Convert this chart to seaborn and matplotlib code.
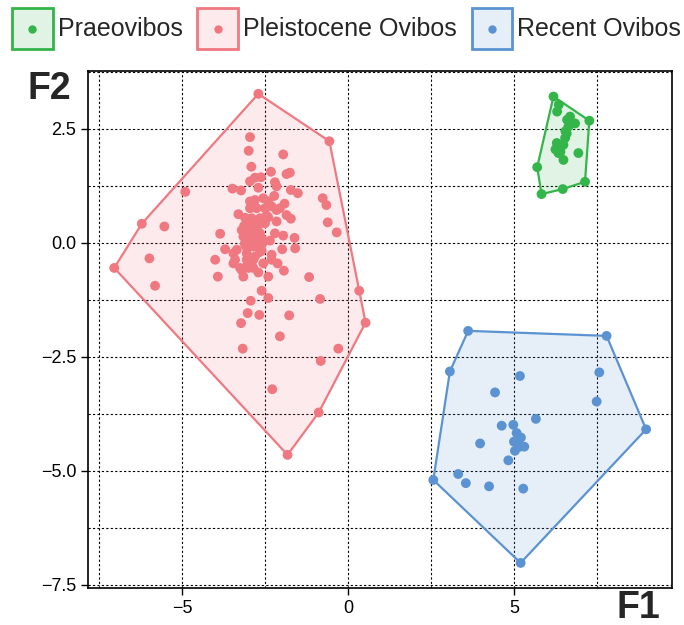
import numpy as np
import pandas as pd
import matplotlib
matplotlib.use("Agg")
import matplotlib.pyplot as plt
from matplotlib.patches import Patch, Rectangle
from matplotlib.lines import Line2D
from matplotlib.legend_handler import HandlerBase
from matplotlib.ticker import MultipleLocator
import seaborn as sns

sns.set_style("ticks")
plt.rcParams["font.family"] = ["Liberation Sans", "DejaVu Sans"]

groups = ["Praeovibos", "Pleistocene Ovibos", "Recent Ovibos"]
colors = ["#33b54a", "#f07880", "#5b93d2"]

praeo_x = [6.19, 6.35, 6.30, 7.27, 6.69, 6.84, 6.64, 6.59, 6.54, 6.29, 6.49, 6.34,
           6.49, 6.94, 5.70, 7.14, 6.47, 5.83, 6.25, 6.40, 6.60, 6.55]
praeo_y = [3.21, 3.03, 2.88, 2.68, 2.77, 2.62, 2.55, 2.40, 2.30, 2.19, 2.15, 1.97,
           1.82, 1.97, 1.66, 1.34, 1.18, 1.07, 2.05, 2.00, 2.70, 2.45]

recent_x = [3.62, 7.79, 3.07, 5.18, 7.57, 4.43, 7.49, 8.98, 5.66, 4.63, 4.98, 5.08,
            5.21, 5.00, 5.18, 5.31, 5.03, 3.98, 4.83, 2.57, 3.32, 3.55, 4.25, 5.28, 5.20]
recent_y = [-1.93, -2.04, -2.82, -2.92, -2.84, -3.28, -3.48, -4.09, -3.86, -4.01, -3.99, -4.17,
            -4.27, -4.36, -4.47, -4.47, -4.56, -4.40, -4.77, -5.20, -5.07, -5.27, -5.34, -5.39, -7.02]

pleist_x = [-2.70, -0.56, -6.21, -7.04, 0.34, 0.53, -0.88, -1.82,
            -2.95, -2.99, -1.95, -2.91, -2.32, -1.85, -1.75, -2.80, -2.62, -2.20, -2.15,
            -2.70, -3.48, -3.22, -4.90, -1.72, -1.51, -2.22, -0.76, -0.65,
            -2.95, -2.80, -2.55, -2.40, -2.30, -1.91, -2.95, -2.75, -2.50, -2.15, -2.05,
            -3.30, -1.85, -1.72, -2.90, -2.65, -2.40, -2.15, -3.13, -2.90, -2.70, -2.50,
            -0.61, -0.34, -5.53, -2.20, -1.95, -1.61, -3.05, -2.85, -2.65,
            -3.15, -2.95, -2.70, -2.55, -3.10, -2.85, -2.60, -1.98, -1.59, -3.70, -2.60,
            -5.98, -3.45, -3.40, -3.05, -3.05, -2.85, -2.55, -2.30, -2.30, -2.12, -1.93,
            -4.00, -3.45, -3.25, -3.05, -2.85, -3.92, -3.15, -2.40, -1.17,
            -5.81, -2.60, -2.40, -2.93, -0.84, -3.02, -2.67, -1.77, -3.22, -2.05,
            -3.17, -0.29, -0.82, -2.28,
            -3.00, -2.80, -2.60, -3.10, -2.90, -2.75, -3.05, -2.85, -2.65, -3.20, -2.45,
            -3.00, -2.80, -3.20, -2.70, -2.35, -3.35, -3.85, -2.95, -3.10]
pleist_y = [3.27, 2.23, 0.42, -0.55, -1.05, -1.75, -3.72, -4.65,
            2.32, 2.02, 1.94, 1.67, 1.56, 1.51, 1.54, 1.43, 1.44, 1.33, 1.24,
            1.21, 1.19, 1.15, 1.12, 1.16, 1.09, 1.03, 0.98, 0.83,
            0.91, 0.94, 0.98, 0.91, 0.80, 0.86, 0.76, 0.76, 0.76, 0.72, 0.76,
            0.63, 0.61, 0.53, 0.54, 0.54, 0.56, 0.47, 0.37, 0.36, 0.39, 0.43,
            0.45, 0.23, 0.36, 0.21, 0.16, 0.11, 0.21, 0.21, 0.21,
            0.14, 0.07, 0.07, 0.03, -0.04, -0.08, -0.04, -0.14, -0.12, -0.14, -0.17,
            -0.34, -0.23, -0.37, -0.23, -0.37, -0.37, -0.45, -0.26, -0.37, -0.45, -0.61,
            -0.37, -0.45, -0.55, -0.52, -0.55, -0.74, -0.74, -0.74, -0.75,
            -0.94, -1.05, -1.21, -1.27, -1.23, -1.54, -1.58, -1.59, -1.76, -2.05,
            -2.32, -2.32, -2.59, -3.21,
            0.30, 0.28, 0.10, 0.00, 0.45, 0.15, -0.10, 0.05, -0.20, 0.28, 0.60,
            -0.55, -0.30, -0.60, -0.65, 0.05, -0.15, 0.20, 1.35, 0.55]

df = pd.DataFrame({
    "F1": praeo_x + pleist_x + recent_x,
    "F2": praeo_y + pleist_y + recent_y,
    "group": [groups[0]] * len(praeo_x) + [groups[1]] * len(pleist_x) + [groups[2]] * len(recent_x),
})


def convex_hull(pts):
    pts = sorted(set(pts))
    if len(pts) <= 2:
        return pts
    def cross(o, a, b):
        return (a[0] - o[0]) * (b[1] - o[1]) - (a[1] - o[1]) * (b[0] - o[0])
    lower, upper = [], []
    for p in pts:
        while len(lower) >= 2 and cross(lower[-2], lower[-1], p) <= 0:
            lower.pop()
        lower.append(p)
    for p in reversed(pts):
        while len(upper) >= 2 and cross(upper[-2], upper[-1], p) <= 0:
            upper.pop()
        upper.append(p)
    return lower[:-1] + upper[:-1]


class BoxDotHandler(HandlerBase):
    def create_artists(self, legend, orig_handle, xdescent, ydescent, width, height, fontsize, trans):
        ec = orig_handle.get_edgecolor()
        fc = orig_handle.get_facecolor()
        rect = Rectangle((-xdescent, -ydescent), width, height, facecolor=fc, edgecolor=ec,
                         linewidth=2.0, transform=trans)
        dot = Line2D([width / 2 - xdescent], [height / 2 - ydescent], marker="o", markersize=5,
                     color=ec, linestyle="none", transform=trans)
        return [rect, dot]


fig = plt.figure(figsize=(6.84, 6.25), dpi=100)
ax = fig.add_axes([88 / 684, 1 - 588 / 625, (672 - 88) / 684, (588 - 71) / 625])

for g, c in zip(groups, colors):
    sub = df[df["group"] == g]
    hull = convex_hull(list(zip(sub["F1"], sub["F2"])))
    hx = [p[0] for p in hull] + [hull[0][0]]
    hy = [p[1] for p in hull] + [hull[0][1]]
    ax.fill(hx, hy, facecolor=c, alpha=0.15, edgecolor="none", zorder=1)
    ax.plot(hx, hy, color=c, lw=1.6, zorder=2)

sns.scatterplot(data=df, x="F1", y="F2", hue="group", palette=dict(zip(groups, colors)),
                s=50, edgecolor="none", linewidth=0, legend=False, ax=ax, zorder=3)

ax.set_xlim(-7.83, 9.76)
ax.set_ylim(-7.57, 3.77)
ax.xaxis.set_major_locator(MultipleLocator(5))
ax.xaxis.set_minor_locator(MultipleLocator(2.5))
ax.yaxis.set_major_locator(MultipleLocator(2.5))
ax.yaxis.set_minor_locator(MultipleLocator(1.25))
ax.grid(which="both", color="black", linestyle=(0, (2, 2)), linewidth=0.8, zorder=0)
ax.set_axisbelow(True)
ax.tick_params(which="major", direction="out", length=5, width=1.0, labelsize=13, colors="black")
ax.tick_params(which="minor", length=0)
ax.set_xlabel("")
ax.set_ylabel("")
for sp in ax.spines.values():
    sp.set_color("black")
    sp.set_linewidth(1.2)

fig.text(28 / 684, 1 - 89 / 625, "F2", fontsize=27, fontweight="bold", ha="left", va="center")
fig.text(660 / 684, 1 - 608 / 625, "F1", fontsize=27, fontweight="bold", ha="right", va="center")

handles = [Patch(facecolor=matplotlib.colors.to_rgba(c, 0.15), edgecolor=c) for c in colors]
fig.legend(handles, groups, handler_map={Patch: BoxDotHandler()},
           loc="upper left", bbox_to_anchor=(7 / 684, 1 - 3 / 625), ncol=3, frameon=False,
           fontsize=18, handlelength=1.62, handleheight=2.15, handletextpad=0.2,
           columnspacing=0.6, borderpad=0.2, borderaxespad=0)

fig.savefig("out.png", dpi=100)
